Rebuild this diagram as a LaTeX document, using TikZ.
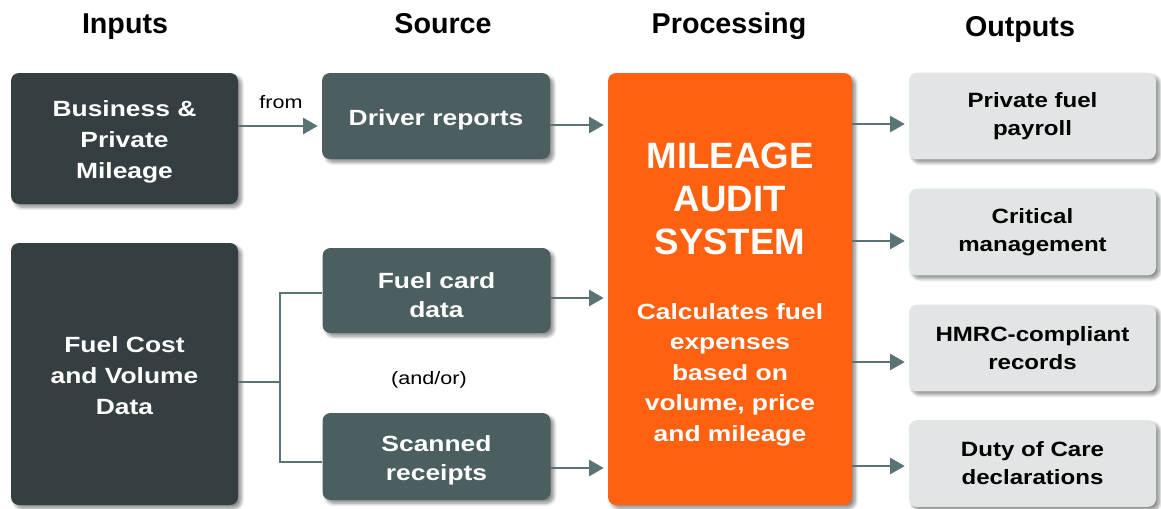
\documentclass[tikz,border=0pt]{standalone}
\usepackage{fontspec}
\setmainfont{Liberation Sans}
\newfontfamily\widefont[FakeStretch=1.2]{Liberation Sans}
\newfontfamily\widefontb[FakeStretch=1.165]{Liberation Sans}
\usetikzlibrary{shadows.blur,arrows.meta}
\definecolor{darkbox}{HTML}{353F41}
\definecolor{srcbox}{HTML}{4B5E60}
\definecolor{orangebox}{HTML}{FF6111}
\definecolor{outbox}{HTML}{E1E5E5}
\definecolor{conn}{HTML}{5A7375}
\newcommand{\topstrut}[1]{\rule{0pt}{#1}}
\tikzset{
  base/.style={rounded corners=6pt, align=center, inner sep=0pt,
    blur shadow={shadow blur steps=6, shadow xshift=2.5pt, shadow yshift=-2.5pt, shadow opacity=45, shadow blur radius=2.5pt}},
  inbox/.style={base, fill=darkbox, text=white, minimum width=170.25pt,
    font=\widefont\fontsize{16.5}{23.5}\selectfont\bfseries},
  srcnode/.style={base, fill=srcbox, text=white, minimum width=171pt,
    font=\widefont\fontsize{16.5}{22}\selectfont\bfseries},
  procbox/.style={base, fill=orangebox, minimum width=183pt, minimum height=324pt},
  outnode/.style={base, fill=outbox, text=black, minimum width=185.25pt, minimum height=65pt,
    font=\widefontb\fontsize{15.5}{21}\selectfont\bfseries},
  header/.style={font=\fontsize{21.5}{24}\selectfont\bfseries, anchor=base},
  small/.style={font=\widefont\fontsize{13.5}{16}\selectfont},
  arr/.style={draw=conn, line width=2pt, -{Triangle[length=11pt, width=12pt]}},
  line/.style={draw=conn, line width=2pt},
}
\begin{document}
\begin{tikzpicture}[x=0.75pt, y=-0.75pt]
\useasboundingbox (0,0) rectangle (1161,508);
% headers
\node[header] (hin) at (125,33) {Inputs};
\node[header] (hsrc) at (443,33) {Source};
\node[header] (hproc) at (729,33) {Processing};
\node[header] (hout) at (1020,36) {Outputs};
% inputs
\node[inbox, minimum height=98.25pt] (bpm) at (124.5,138.5) {\topstrut{17pt}Business \&\\Private\\Mileage};
\node[inbox, minimum height=196.5pt] (fcv) at (124.5,374) {\topstrut{14.5pt}Fuel Cost\\and Volume\\Data};
% source
\node[srcnode, minimum height=64.5pt] (drv) at (436,116) {\topstrut{17pt}Driver reports};
\node[srcnode, minimum height=63.75pt] (fcd) at (436.5,290.5) {\topstrut{19pt}Fuel card\\data};
\node[srcnode, minimum height=65.25pt] (scn) at (436.5,456.5) {\topstrut{18pt}Scanned\\receipts};
% processing
\node[procbox] (mas) at (730,289) {};
\node[font=\fontsize{27.5}{32.5}\selectfont\bfseries, text=white, align=center] (title) at (730,199) {MILEAGE\\AUDIT\\SYSTEM};
\node[font=\widefont\fontsize{16.5}{22.9}\selectfont\bfseries, text=white, align=center] (desc) at (730,374.5) {Calculates fuel\\expenses\\based on\\volume, price\\and mileage};
% outputs
\node[outnode] (o1) at (1032.5,116) {Private fuel\\payroll};
\node[outnode] (o2) at (1032.5,232) {Critical\\management};
\node[outnode] (o3) at (1032.5,348) {HMRC-compliant\\records};
\node[outnode] (o4) at (1032.5,463.5) {Duty of Care\\declarations};
% labels
\node[small] (from) at (281,102) {from};
\node[small] (andor) at (429,380) {(and/or)};
% connectors
\draw[arr] (bpm.east |- 0,126) -- ([xshift=-3pt]drv.west |- 0,126);
\draw[arr] (drv.east |- 0,125) -- ([xshift=-3pt]mas.west |- 0,125);
\draw[arr] (fcd.east |- 0,298) -- ([xshift=-3pt]mas.west |- 0,298);
\draw[arr] (scn.east |- 0,468) -- ([xshift=-3pt]mas.west |- 0,468);
\coordinate (br) at (280,382);
\draw[line] (fcv.east |- br) -- (br);
\draw[line] (br) |- (fcd.west |- 0,293);
\draw[line] (br) |- (scn.west |- 0,462);
\draw[arr] (mas.east |- 0,124) -- ([xshift=-3pt]o1.west |- 0,124);
\draw[arr] (mas.east |- 0,241) -- ([xshift=-3pt]o2.west |- 0,241);
\draw[arr] (mas.east |- 0,362) -- ([xshift=-3pt]o3.west |- 0,362);
\draw[arr] (mas.east |- 0,466) -- ([xshift=-3pt]o4.west |- 0,466);
\end{tikzpicture}
\end{document}
